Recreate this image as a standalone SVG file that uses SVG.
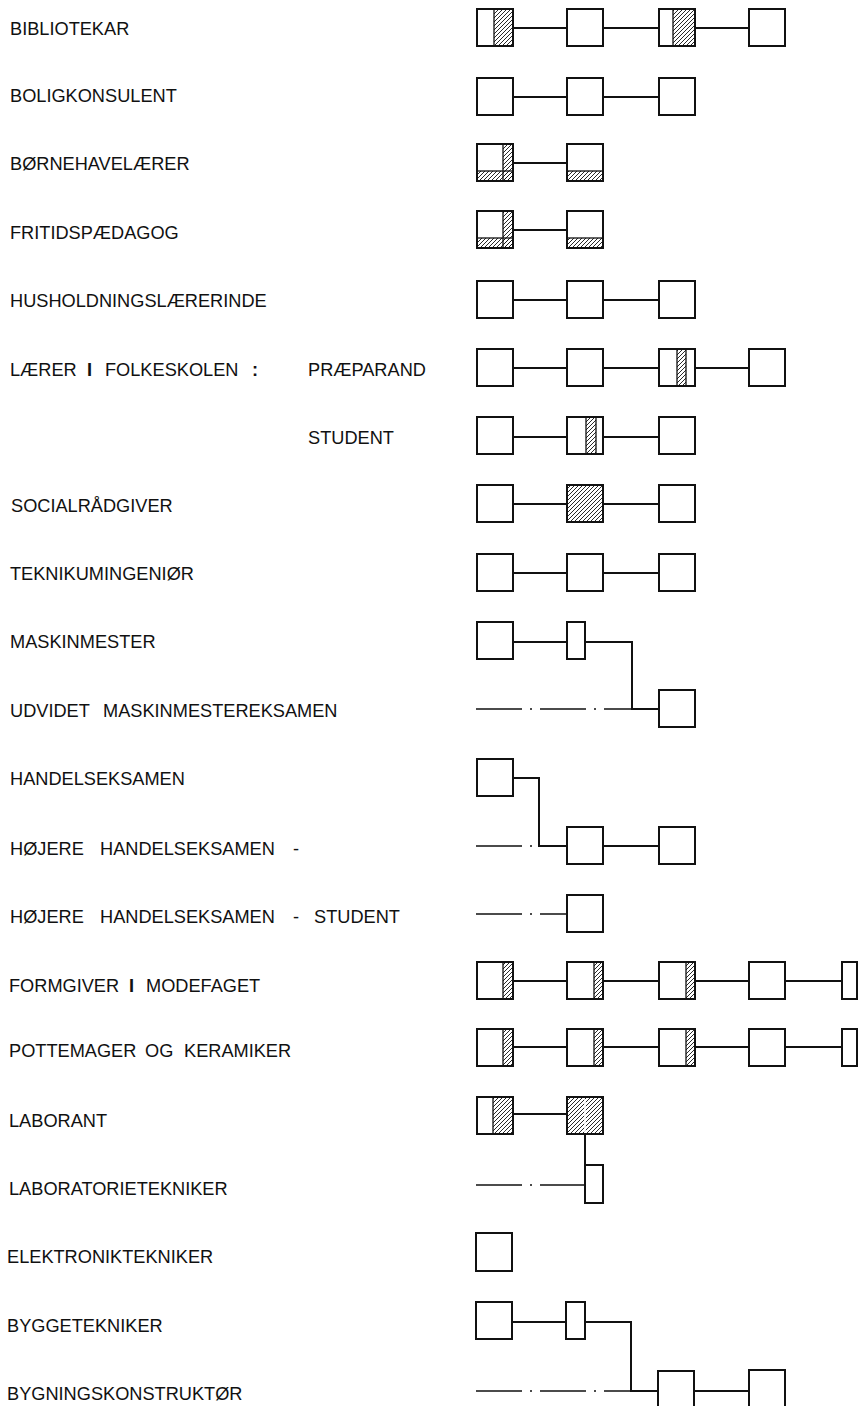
<svg xmlns="http://www.w3.org/2000/svg" width="861" height="1406" viewBox="0 0 861 1406">
<defs>
<pattern id="hatch" patternUnits="userSpaceOnUse" width="4" height="4">
<path d="M-1,1 l2,-2 M0,4 l4,-4 M3,5 l2,-2" stroke="#111" stroke-width="0.9"/>
</pattern>
<style>
.bx{fill:#fff;stroke:#111;stroke-width:2}
.ol{fill:none;stroke:#111;stroke-width:2}
.h{fill:url(#hatch);stroke:#111;stroke-width:1.3}
.hn{fill:url(#hatch);stroke:none}
.ln{fill:none;stroke:#111;stroke-width:2}
.dd{fill:none;stroke:#111;stroke-width:1.3;stroke-dasharray:46 8 2 8}
text{font-family:"Liberation Sans",Arial,sans-serif;font-size:18.2px;fill:#111}
.b{font-weight:bold}
</style>
</defs>
<rect width="861" height="1406" fill="#fff"/>

<g id="labels">
<text x="10" y="35">BIBLIOTEKAR</text>
<text x="10" y="101.5">BOLIGKONSULENT</text>
<text x="10" y="170">BØRNEHAVELÆRER</text>
<text x="10" y="238.5">FRITIDSPÆDAGOG</text>
<text x="10" y="307">HUSHOLDNINGSLÆRERINDE</text>
<text y="376"><tspan x="10">LÆRER</tspan><tspan x="87" class="b">I</tspan><tspan x="105">FOLKESKOLEN</tspan><tspan x="252" class="b">:</tspan><tspan x="308">PRÆPARAND</tspan></text>
<text x="308" y="443.5">STUDENT</text>
<text x="11" y="511.5">SOCIALRÅDGIVER</text>
<text x="10" y="580">TEKNIKUMINGENIØR</text>
<text x="10" y="648">MASKINMESTER</text>
<text y="717"><tspan x="10">UDVIDET</tspan><tspan x="103">MASKINMESTEREKSAMEN</tspan></text>
<text x="10" y="785">HANDELSEKSAMEN</text>
<text y="855"><tspan x="10">HØJERE</tspan><tspan x="100">HANDELSEKSAMEN</tspan><tspan x="293">-</tspan></text>
<text y="922.5"><tspan x="10">HØJERE</tspan><tspan x="100">HANDELSEKSAMEN</tspan><tspan x="293">-</tspan><tspan x="314">STUDENT</tspan></text>
<text y="991.5"><tspan x="9">FORMGIVER</tspan><tspan x="129" class="b">I</tspan><tspan x="146">MODEFAGET</tspan></text>
<text y="1056.5"><tspan x="9">POTTEMAGER</tspan><tspan x="145">OG</tspan><tspan x="184">KERAMIKER</tspan></text>
<text x="9" y="1126.5">LABORANT</text>
<text x="9" y="1194.5">LABORATORIETEKNIKER</text>
<text x="7" y="1263">ELEKTRONIKTEKNIKER</text>
<text x="7" y="1331.5">BYGGETEKNIKER</text>
<text x="7" y="1399.5">BYGNINGSKONSTRUKTØR</text>
</g>

<g id="connectors">
<path class="ln" d="M513,28H567 M603,28H659 M695,28H749"/>
<path class="ln" d="M513,97H567 M603,97H659"/>
<path class="ln" d="M513,163H567"/>
<path class="ln" d="M513,230H567"/>
<path class="ln" d="M513,300H567 M603,300H659"/>
<path class="ln" d="M513,368H567 M603,368H659 M695,368H749"/>
<path class="ln" d="M513,437H567 M603,437H659"/>
<path class="ln" d="M513,504H567 M603,504H659"/>
<path class="ln" d="M513,573H567 M603,573H659"/>
<path class="ln" d="M513,642H567 M585,642H632V709H659"/>
<path class="dd" d="M476,709H632"/>
<path class="ln" d="M513,778H539V846H567 M603,846H659"/>
<path class="dd" d="M476,846H539"/>
<path class="dd" d="M476,914H567"/>
<path class="ln" d="M513,981H567 M603,981H659 M695,981H749 M785,981H842"/>
<path class="ln" d="M513,1047H567 M603,1047H659 M695,1047H749 M785,1047H842"/>
<path class="ln" d="M513,1114H567 M585,1134V1165"/>
<path class="dd" d="M476,1185H585"/>
<path class="ln" d="M512,1322H566 M585,1322H631V1391H658 M694,1391H749"/>
<path class="dd" d="M476,1391H631"/>
</g>

<g id="bibliotekar">
<g id="bib-1"><rect class="bx" x="477" y="9" width="36" height="37"/><rect class="h" x="494" y="9" width="19" height="37"/><rect class="ol" x="477" y="9" width="36" height="37"/></g>
<g id="bib-2"><rect class="bx" x="567" y="9" width="36" height="37"/></g>
<g id="bib-3"><rect class="bx" x="659" y="9" width="36" height="37"/><rect class="h" x="673" y="9" width="22" height="37"/><rect class="ol" x="659" y="9" width="36" height="37"/></g>
<g id="bib-4"><rect class="bx" x="749" y="9" width="36" height="37"/></g>
</g>

<g id="boligkonsulent">
<g id="bol-1"><rect class="bx" x="477" y="78" width="36" height="37"/></g>
<g id="bol-2"><rect class="bx" x="567" y="78" width="36" height="37"/></g>
<g id="bol-3"><rect class="bx" x="659" y="78" width="36" height="37"/></g>
</g>

<g id="boernehave">
<g id="bh-1"><rect class="bx" x="477" y="144" width="36" height="37"/><rect class="h" x="503" y="144" width="10" height="37"/><rect class="h" x="477" y="171" width="36" height="10"/><rect class="ol" x="477" y="144" width="36" height="37"/></g>
<g id="bh-2"><rect class="bx" x="567" y="144" width="36" height="37"/><rect class="h" x="567" y="171" width="36" height="10"/><rect class="ol" x="567" y="144" width="36" height="37"/></g>
</g>

<g id="fritid">
<g id="fr-1"><rect class="bx" x="477" y="211" width="36" height="37"/><rect class="h" x="503" y="211" width="10" height="37"/><rect class="h" x="477" y="238" width="36" height="10"/><rect class="ol" x="477" y="211" width="36" height="37"/></g>
<g id="fr-2"><rect class="bx" x="567" y="211" width="36" height="37"/><rect class="h" x="567" y="238" width="36" height="10"/><rect class="ol" x="567" y="211" width="36" height="37"/></g>
</g>

<g id="husholdning">
<g id="hu-1"><rect class="bx" x="477" y="281" width="36" height="37"/></g>
<g id="hu-2"><rect class="bx" x="567" y="281" width="36" height="37"/></g>
<g id="hu-3"><rect class="bx" x="659" y="281" width="36" height="37"/></g>
</g>

<g id="laerer-praeparand">
<g id="lp-1"><rect class="bx" x="477" y="349" width="36" height="37"/></g>
<g id="lp-2"><rect class="bx" x="567" y="349" width="36" height="37"/></g>
<g id="lp-3"><rect class="bx" x="659" y="349" width="36" height="37"/><rect class="h" x="677" y="349" width="9" height="37"/><rect class="ol" x="659" y="349" width="36" height="37"/></g>
<g id="lp-4"><rect class="bx" x="749" y="349" width="36" height="37"/></g>
</g>

<g id="laerer-student">
<g id="ls-1"><rect class="bx" x="477" y="417" width="36" height="37"/></g>
<g id="ls-2"><rect class="bx" x="567" y="417" width="36" height="37"/><rect class="h" x="586" y="417" width="10" height="37"/><rect class="ol" x="567" y="417" width="36" height="37"/></g>
<g id="ls-3"><rect class="bx" x="659" y="417" width="36" height="37"/></g>
</g>

<g id="socialraadgiver">
<g id="so-1"><rect class="bx" x="477" y="485" width="36" height="37"/></g>
<g id="so-2"><rect class="bx" x="567" y="485" width="36" height="37"/><rect class="hn" x="567" y="485" width="36" height="37"/><rect class="ol" x="567" y="485" width="36" height="37"/></g>
<g id="so-3"><rect class="bx" x="659" y="485" width="36" height="37"/></g>
</g>

<g id="teknikumingenioer">
<g id="te-1"><rect class="bx" x="477" y="554" width="36" height="37"/></g>
<g id="te-2"><rect class="bx" x="567" y="554" width="36" height="37"/></g>
<g id="te-3"><rect class="bx" x="659" y="554" width="36" height="37"/></g>
</g>

<g id="maskinmester">
<g id="ma-1"><rect class="bx" x="477" y="622" width="36" height="37"/></g>
<g id="ma-2"><rect class="bx" x="567" y="622" width="18" height="37"/></g>
</g>
<g id="udvidet">
<g id="ud-1"><rect class="bx" x="659" y="690" width="36" height="37"/></g>
</g>

<g id="handelseksamen">
<g id="ha-1"><rect class="bx" x="477" y="759" width="36" height="37"/></g>
</g>
<g id="hoejere">
<g id="hh-1"><rect class="bx" x="567" y="827" width="36" height="37"/></g>
<g id="hh-2"><rect class="bx" x="659" y="827" width="36" height="37"/></g>
</g>
<g id="hoejere-student">
<g id="hs-1"><rect class="bx" x="567" y="895" width="36" height="37"/></g>
</g>

<g id="formgiver">
<g id="fo-1"><rect class="bx" x="477" y="962" width="36" height="37"/><rect class="h" x="503" y="962" width="10" height="37"/><rect class="ol" x="477" y="962" width="36" height="37"/></g>
<g id="fo-2"><rect class="bx" x="567" y="962" width="36" height="37"/><rect class="h" x="594" y="962" width="9" height="37"/><rect class="ol" x="567" y="962" width="36" height="37"/></g>
<g id="fo-3"><rect class="bx" x="659" y="962" width="36" height="37"/><rect class="h" x="686" y="962" width="9" height="37"/><rect class="ol" x="659" y="962" width="36" height="37"/></g>
<g id="fo-4"><rect class="bx" x="749" y="962" width="36" height="37"/></g>
<g id="fo-5"><rect class="bx" x="842" y="962" width="15" height="37"/></g>
</g>

<g id="pottemager">
<g id="po-1"><rect class="bx" x="477" y="1029" width="36" height="37"/><rect class="h" x="503" y="1029" width="10" height="37"/><rect class="ol" x="477" y="1029" width="36" height="37"/></g>
<g id="po-2"><rect class="bx" x="567" y="1029" width="36" height="37"/><rect class="h" x="594" y="1029" width="9" height="37"/><rect class="ol" x="567" y="1029" width="36" height="37"/></g>
<g id="po-3"><rect class="bx" x="659" y="1029" width="36" height="37"/><rect class="h" x="686" y="1029" width="9" height="37"/><rect class="ol" x="659" y="1029" width="36" height="37"/></g>
<g id="po-4"><rect class="bx" x="749" y="1029" width="36" height="37"/></g>
<g id="po-5"><rect class="bx" x="842" y="1029" width="15" height="37"/></g>
</g>

<g id="laborant">
<g id="la-1"><rect class="bx" x="477" y="1097" width="36" height="37"/><rect class="h" x="493" y="1097" width="20" height="37"/><rect class="ol" x="477" y="1097" width="36" height="37"/></g>
<g id="la-2"><rect class="bx" x="567" y="1097" width="36" height="37"/><rect class="hn" x="567" y="1097" width="36" height="37"/><line x1="585" y1="1099" x2="585" y2="1132" stroke="#fff" stroke-width="1.6"/><rect class="ol" x="567" y="1097" width="36" height="37"/></g>
</g>
<g id="laboratorietekniker">
<g id="lt-1"><rect class="bx" x="585" y="1165" width="18" height="38"/></g>
</g>

<g id="elektroniktekniker">
<g id="el-1"><rect class="bx" x="476" y="1233" width="36" height="38"/></g>
</g>

<g id="byggetekniker">
<g id="by-1"><rect class="bx" x="476" y="1302" width="36" height="37"/></g>
<g id="by-2"><rect class="bx" x="566" y="1302" width="19" height="37"/></g>
</g>
<g id="bygningskonstruktoer">
<g id="bk-1"><rect class="bx" x="658" y="1371" width="36" height="37"/></g>
<g id="bk-2"><rect class="bx" x="749" y="1370" width="36" height="38"/></g>
</g>
</svg>
